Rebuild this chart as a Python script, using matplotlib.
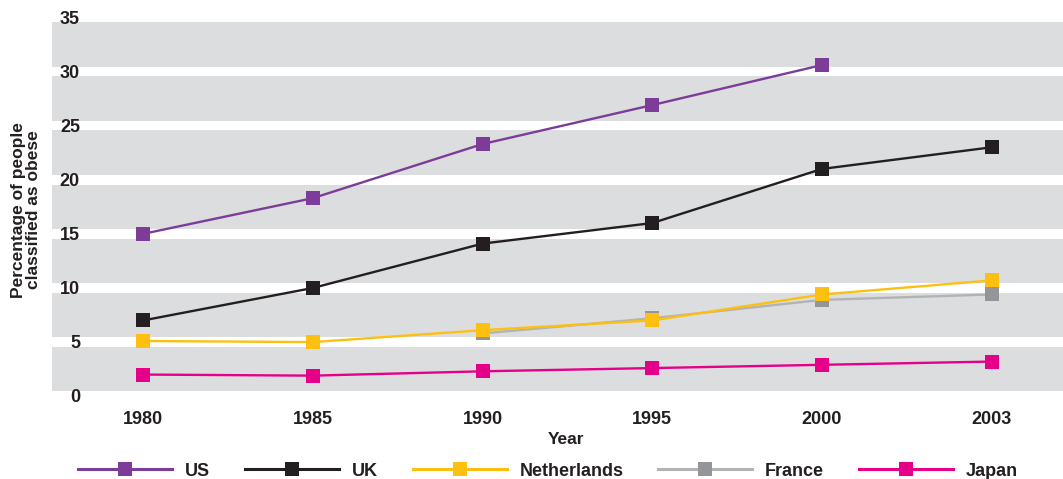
import matplotlib.pyplot as plt
from matplotlib.transforms import blended_transform_factory

plt.rcParams["font.family"] = ["Liberation Sans", "DejaVu Sans"]
plt.rcParams["font.weight"] = "bold"

years = ["1980", "1985", "1990", "1995", "2000", "2003"]
us = [15.0, 18.3, 23.3, 26.9, 30.6]
uk = [7.0, 10.0, 14.1, 16.0, 21.0, 23.0]
netherlands = [5.1, 5.0, 6.1, 7.0, 9.4, 10.7]
france_years = ["1990", "1995", "2000", "2003"]
france = [5.8, 7.2, 8.9, 9.4]
japan = [2.0, 1.9, 2.3, 2.6, 2.9, 3.2]
y_ticks = [0, 5, 10, 15, 20, 25, 30, 35]

# (label, x values, y values, line colour, marker colour), in drawing order
series = [
    ("Japan", years, japan, "#e5008a", "#e5008a"),
    ("France", france_years, france, "#b2b3b5", "#939598"),
    ("Netherlands", years, netherlands, "#fdc010", "#fdc010"),
    ("UK", years, uk, "#231f20", "#231f20"),
    ("US", years[:len(us)], us, "#7d3c98", "#7d3c98"),
]
legend_order = ["US", "UK", "Netherlands", "France", "Japan"]

fig = plt.figure(figsize=(10.63, 4.79), dpi=100)
ax = fig.add_axes([52 / 1063, (479 - 396.2) / 479, 1 - 52 / 1063, (396.2 - 17.4) / 479])

x_pos = {y: i for i, y in enumerate(years)}
ax.set_xlim(-0.537, 5.42)
ax.set_ylim(0, 35)

# grey bands with white gaps at every tick
gap = 0.45
for lo in y_ticks[:-1]:
    ax.axhspan(lo + gap, lo + 5 - gap, color="#dcdddf", lw=0, zorder=0)

handles = {}
for name, xs, ys, lc, mc in series:
    (h,) = ax.plot([x_pos[x] for x in xs], ys, color=lc, lw=1.7,
                   marker="s", ms=10, mfc=mc, mec=mc, mew=0, zorder=3, clip_on=False)
    handles[name] = h

for s in ax.spines.values():
    s.set_visible(False)
ax.set_yticks([])
ax.set_xticks(range(len(years)))
ax.set_xticklabels(years, fontsize=13, fontweight="bold", color="#231f20")
ax.tick_params(axis="x", length=0, pad=11)

trans = blended_transform_factory(ax.transAxes, ax.transData)
for t in y_ticks:
    ax.text(28 / 1011, t - 0.15, str(t), transform=trans, ha="right", va="center",
            fontsize=13, fontweight="bold", color="#231f20", zorder=4)

fig.text(566 / 1063, 1 - 440 / 479, "Year", ha="center", va="center",
         fontsize=12.5, fontweight="bold", color="#231f20")
fig.text(26 / 1063, 1 - 210 / 479, "Percentage of people\nclassified as obese",
         rotation=90, ha="center", va="center", fontsize=12.5, fontweight="bold",
         color="#231f20", linespacing=1.0)

leg = fig.legend([handles[n] for n in legend_order], legend_order, loc="center",
                 bbox_to_anchor=(548 / 1063, 1 - 471 / 479), ncol=5, frameon=False,
                 handlelength=5.2, handletextpad=0.7, columnspacing=1.95,
                 prop={"size": 13, "weight": "bold"}, labelcolor="#231f20",
                 borderaxespad=0, borderpad=0)
for line in leg.get_lines():
    line.set_linewidth(2.2)

fig.savefig("out.png", dpi=100)
